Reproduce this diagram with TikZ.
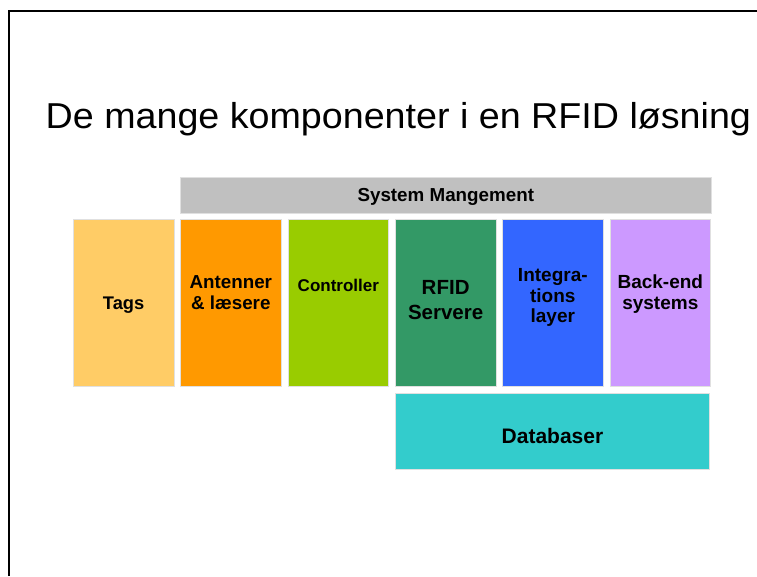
\documentclass[tikz,border=0pt]{standalone}
\usepackage{fontspec}
\setmainfont{Liberation Sans}
\definecolor{cTags}{HTML}{FFCC66}
\definecolor{cAnt}{HTML}{FF9900}
\definecolor{cCtrl}{HTML}{99CC00}
\definecolor{cRfid}{HTML}{339966}
\definecolor{cInt}{HTML}{3366FF}
\definecolor{cBack}{HTML}{CC99FF}
\definecolor{cDb}{HTML}{33CCCC}
\definecolor{cSys}{HTML}{C0C0C0}
\begin{document}
\begin{tikzpicture}[x=1pt,y=-1pt,
  box/.style={draw=white!88!black, line width=0.6pt, inner sep=0pt, anchor=north west},
  lbl/.style={align=center, inner sep=0pt, font=\bfseries\fontsize{#1}{#1}\selectfont},
  lbl/.default=18.8]
\useasboundingbox (0,0) rectangle (757,576);
\fill[white] (0,0) rectangle (757,576);
\draw[line width=2pt] (9,576) -- (9,11) -- (757,11);

\begin{scope}[shift={(45.5,128.3)}, xscale=1.046]
\node[anchor=base west, inner sep=0pt, font=\fontsize{36}{40}\selectfont, transform shape] (title) at (0,0) {De mange komponenter i en RFID løsning};
\end{scope}

\node[box, fill=cSys, minimum width=531pt, minimum height=35.4pt] (sys) at (180,177.3) {};
\node[box, fill=cTags, minimum width=101.3pt, minimum height=166.7pt] (tags) at (72.7,219.3) {};
\node[box, fill=cAnt, minimum width=101pt, minimum height=166.7pt] (ant) at (180,219.3) {};
\node[box, fill=cCtrl, minimum width=100.7pt, minimum height=166.7pt] (ctrl) at (287.7,219.3) {};
\node[box, fill=cRfid, minimum width=100.7pt, minimum height=166.7pt] (rfid) at (395,219.3) {};
\node[box, fill=cInt, minimum width=100.4pt, minimum height=166.7pt] (int) at (502.3,219.3) {};
\node[box, fill=cBack, minimum width=100pt, minimum height=166.7pt] (back) at (610,219.3) {};
\node[box, fill=cDb, minimum width=314.3pt, minimum height=76pt] (db) at (395,393.3) {};

\node[lbl=18.8] (sysl) at ([yshift=-2pt]sys.center) {System Mangement};
\node[lbl=18.3] (tagsl) at ([yshift=-2.3pt]tags.center) {Tags};
\node[align=center, inner sep=0pt, font=\bfseries\fontsize{18.8}{21}\selectfont] (antl) at ([yshift=10.7pt]ant.center) {Antenner\\\& læsere};
\node[lbl=17] (ctrll) at ([yshift=17.7pt]ctrl.center) {Controller};
\node[align=center, inner sep=0pt, font=\bfseries\fontsize{20.5}{25}\selectfont] (rfidl) at ([yshift=2.7pt]rfid.center) {RFID\\Servere};
\node[align=center, inner sep=0pt, font=\bfseries\fontsize{19}{20.5}\selectfont] (intl) at ([yshift=5.5pt]int.center) {Integra-\\tions\\layer};
\node[align=center, inner sep=0pt, font=\bfseries\fontsize{19}{21}\selectfont] (backl) at ([yshift=8.5pt]back.center) {Back-end\\systems};
\node[lbl=21] (dbl) at ([yshift=-4.5pt]db.center) {Databaser};
\end{tikzpicture}
\end{document}
